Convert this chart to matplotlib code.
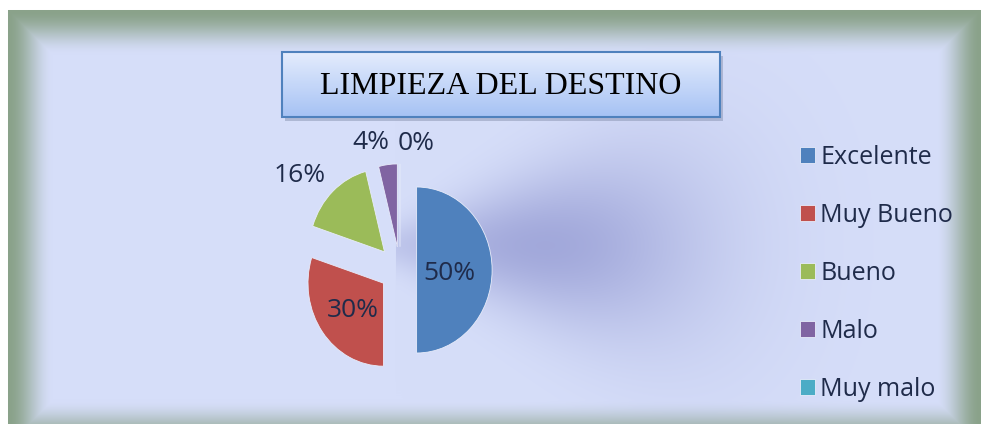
import matplotlib
matplotlib.use("Agg")
import matplotlib.pyplot as plt
from matplotlib.patches import Rectangle
import numpy as np

# data
categories = ["Excelente", "Muy Bueno", "Bueno", "Malo", "Muy malo"]
percentages = [50, 30, 16, 4, 0]
slice_colors = ["#4f81bd", "#c0504d", "#9bbb59", "#8064a2", "#4bacc6"]
title = "LIMPIEZA DEL DESTINO"

W, H = 987, 424
fig = plt.figure(figsize=(W / 100, H / 100), dpi=100)

# background: framed panel with green-grey edges and a soft purple glow
bg = fig.add_axes([0, 0, 1, 1])
bg.set_axis_off()
yy, xx = np.mgrid[0:H, 0:W].astype(float)
img = np.ones((H, W, 3))
x0, x1, y0, y1 = 8, 980, 10, 424
inside = (xx >= x0) & (xx <= x1) & (yy >= y0) & (yy <= y1)
d = np.minimum.reduce([xx - x0, x1 - xx, yy - y0, (y1 + 20) - yy])
t = np.clip(d / 45.0, 0, 1)
t = t * t * (3 - 2 * t)
edge = np.array([138, 162, 138]) / 255
inner = np.array([214, 222, 249]) / 255
panel = edge[None, None, :] * (1 - t[..., None]) + inner[None, None, :] * t[..., None]
# purple glow spreading right from the pie
spread = 25 + 0.33 * np.clip(xx - 400, 0, None)
glow = np.exp(-((xx - 545) / 165.0) ** 2 - ((yy - 245) / spread) ** 2) * (xx > 395)
glow_col = np.array([140, 146, 206]) / 255
panel = panel * (1 - 0.7 * glow[..., None]) + glow_col[None, None, :] * 0.7 * glow[..., None]
img[inside] = panel[inside]
bg.imshow(img, extent=[0, W, H, 0], aspect="auto", interpolation="bilinear")
bg.set_xlim(0, W)
bg.set_ylim(H, 0)

# title box with vertical gradient
bx0, bx1, by0, by1 = 282, 720, 52, 117
bg.add_patch(Rectangle((bx0 + 3, by0 + 4), bx1 - bx0, by1 - by0,
                       facecolor="#7f8aa8", alpha=0.45, edgecolor="none", zorder=2))
grad = np.linspace(0, 1, 64)[:, None]
top = np.array([228, 236, 253]) / 255
bot = np.array([166, 194, 244]) / 255
box_img = top[None, None, :] * (1 - grad[..., None]) + bot[None, None, :] * grad[..., None]
box_img = np.repeat(box_img, 2, axis=1)
bg.imshow(box_img, extent=[bx0, bx1, by1, by0], aspect="auto", zorder=3)
bg.add_patch(Rectangle((bx0, by0), bx1 - bx0, by1 - by0, facecolor="none",
                       edgecolor="#4f81bd", linewidth=1.5, zorder=4))
bg.text((bx0 + bx1) / 2, (by0 + by1) / 2 + 2, title, ha="center", va="center",
        fontsize=23, family="Liberation Serif", color="black", zorder=5)

# pie (slightly squeezed horizontally, like the original)
cx, cy = 400, 270
rx, ry = 75.5, 83
half = 170
ax = fig.add_axes([(cx - half) / W, (H - cy - half) / H, 2 * half / W, 2 * half / H])
ax.set_axis_off()
explode = [0.22, 0.27, 0.3, 0.28, 0.28]
wedges, _ = ax.pie(percentages, colors=slice_colors, startangle=90, counterclock=False,
                   explode=explode, radius=1,
                   wedgeprops=dict(edgecolor="#e8ecfa", linewidth=0.6))
ax.set_aspect("auto")
ax.set_xlim(-half / rx, half / rx)
ax.set_ylim(-half / ry, half / ry)

label_dist = [0.66, 0.8, 1.75, 1.58, 1.54]
label_shift = [-4, 2, 6, 6.8, -8]
for w, p, dist, sh in zip(wedges, percentages, label_dist, label_shift):
    ang = np.deg2rad((w.theta1 + w.theta2) / 2 + sh)
    ax.text(dist * np.cos(ang), dist * np.sin(ang), f"{p}%", ha="center", va="center",
            fontsize=19, family="Open Sans", color="#1f2b4a")

fig.legend(wedges, categories, loc="upper left", bbox_to_anchor=(778 / W, 1 - 122 / H),
           frameon=False, prop=dict(family="Open Sans", size=18), labelcolor="#1f2b4a",
           handlelength=0.6, handleheight=0.6, handletextpad=0.2, labelspacing=1.32)

fig.savefig("out.png", dpi=100)
